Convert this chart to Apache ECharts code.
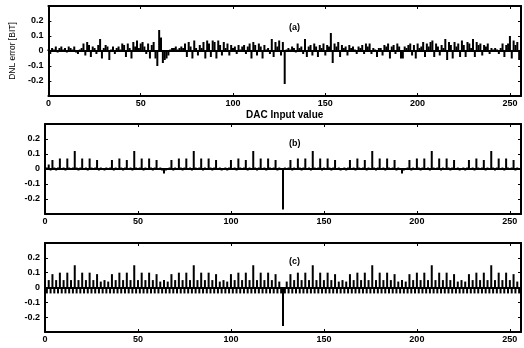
<!DOCTYPE html>
<html><head><meta charset="utf-8">
<script src="https://cdn.jsdelivr.net/npm/echarts@6/dist/echarts.min.js"></script>
<style>html,body{margin:0;padding:0;background:#fff}#c{width:524px;height:348px}</style>
</head><body><div id="c"></div>
<script>
// DAC input codes 0..255
const codes = Array.from({length: 256}, (_, i) => i);
const xTicks = [0, 50, 100, 150, 200, 250];
const yTicks = [-0.2, -0.1, 0, 0.1, 0.2];
const panelLabels = ['(a)', '(b)', '(c)'];
const xName = 'DAC Input value';
const yName = 'DNL error [BIT]';

const dnlA = [
 0.01,-0.02,0.02,0.01,0.03,-0.01,0.02,0.03,0.01,0.02,-0.01,0.03,0.02,0.01,0.03,-0.01,
 -0.02,0.01,0.02,0.05,-0.03,0.06,0.04,-0.04,0.03,0.02,-0.02,0.04,0.08,-0.05,0.02,0.04,
 0.03,-0.06,0.01,0.03,-0.02,0.02,0.03,0.01,0.05,0.04,-0.04,0.05,0.02,-0.05,0.06,0.03,
 0.07,0.02,0.05,0.06,0.03,-0.02,0.05,-0.05,0.04,0.06,-0.05,-0.10,0.14,0.09,-0.08,-0.06,
 -0.05,-0.03,0.01,0.02,0.02,0.03,0.01,0.02,0.03,0.02,0.05,-0.04,0.06,0.03,-0.05,0.07,
 0.02,-0.03,0.04,0.02,0.06,-0.05,0.07,0.05,-0.04,0.07,0.06,-0.05,0.07,0.04,-0.03,0.06,
 0.02,0.05,-0.03,0.04,0.02,0.03,-0.02,0.04,0.01,0.03,0.04,-0.02,0.03,0.05,-0.05,0.06,
 0.04,-0.03,0.05,0.03,-0.05,0.04,0.01,0.02,-0.02,0.08,-0.04,0.06,0.03,0.07,-0.03,0.06,
 -0.22,0.01,0.02,0.01,0.03,0.02,-0.01,0.05,0.02,0.03,-0.02,0.08,-0.04,0.03,0.04,-0.03,
 0.05,0.03,-0.04,0.04,0.02,0.05,-0.03,0.04,0.03,0.12,-0.08,0.05,0.03,0.06,-0.04,0.04,
 0.02,0.03,-0.03,0.04,0.02,0.03,0.01,-0.02,0.03,0.02,0.04,-0.02,0.05,0.03,0.05,-0.02,
 0.02,0.01,-0.04,0.02,0.02,-0.03,0.04,0.03,0.05,-0.05,0.03,0.04,-0.02,0.05,0.03,-0.05,
 -0.05,0.03,0.02,0.04,0.05,-0.03,0.04,-0.05,0.05,0.02,0.03,0.06,-0.04,0.05,0.03,0.06,
 0.07,-0.04,0.05,0.03,-0.03,0.04,0.02,0.08,-0.06,0.06,0.04,-0.05,0.06,0.03,0.05,-0.04,
 0.07,0.04,-0.04,0.06,0.05,0.02,0.08,-0.04,0.06,0.04,0.05,-0.03,0.04,0.03,0.05,-0.02,
 0.02,0.01,0.02,0.01,-0.02,0.02,0.05,-0.04,0.04,0.05,0.10,-0.05,0.07,0.04,0.06,-0.06
];

const dnlB = [
 0.00,0.01,0.03,-0.01,0.06,0.01,-0.01,0.01,0.07,0.00,0.01,-0.01,0.07,0.01,0.00,0.01,
 0.12,0.01,-0.01,0.01,0.07,0.00,0.01,-0.01,0.07,0.01,0.00,0.01,0.06,-0.01,0.01,0.00,
 -0.01,0.01,0.00,0.01,0.06,-0.01,0.01,0.00,0.07,0.01,-0.01,0.01,0.06,0.00,0.01,-0.01,
 0.12,0.01,0.00,0.01,0.07,-0.01,0.01,0.00,0.07,0.01,-0.01,0.01,0.06,0.00,0.01,-0.01,
 -0.03,-0.01,0.00,0.01,0.06,-0.01,0.01,0.00,0.07,0.01,-0.01,0.01,0.07,0.00,0.01,-0.01,
 0.12,0.01,0.00,0.01,0.07,-0.01,0.01,0.00,0.07,0.01,-0.01,0.01,0.06,0.00,0.01,-0.01,
 0.00,0.01,-0.01,0.01,0.06,0.00,0.01,-0.01,0.07,0.01,0.00,0.01,0.06,-0.01,0.01,0.00,
 0.12,0.01,-0.01,0.01,0.07,0.00,0.01,-0.01,0.07,0.01,0.00,0.01,0.06,-0.01,0.01,0.00,
 -0.27,0.01,0.00,0.01,0.06,-0.01,0.01,0.00,0.07,0.01,-0.01,0.01,0.07,0.00,0.01,-0.01,
 0.12,0.01,0.00,0.01,0.07,-0.01,0.01,0.00,0.07,0.01,-0.01,0.01,0.06,0.00,0.01,-0.01,
 0.00,0.01,-0.01,0.01,0.06,0.00,0.01,-0.01,0.07,0.01,0.00,0.01,0.06,-0.01,0.01,0.00,
 0.12,0.01,-0.01,0.01,0.07,0.00,0.01,-0.01,0.07,0.01,0.00,0.01,0.06,-0.01,0.01,0.00,
 -0.03,-0.01,0.00,0.01,0.06,-0.01,0.01,0.00,0.07,0.01,-0.01,0.01,0.07,0.00,0.01,-0.01,
 0.12,0.01,0.00,0.01,0.07,-0.01,0.01,0.00,0.07,0.01,-0.01,0.01,0.06,0.00,0.01,-0.01,
 0.00,0.01,-0.01,0.01,0.06,0.00,0.01,-0.01,0.07,0.01,0.00,0.01,0.06,-0.01,0.01,0.00,
 0.12,0.01,-0.01,0.01,0.07,0.00,0.01,-0.01,0.07,0.01,0.00,0.01,0.06,-0.01,0.01,0.00
];

const dnlC = [
 0.03,-0.04,0.05,-0.04,0.09,-0.04,0.05,-0.04,0.10,-0.04,0.05,-0.04,0.10,-0.04,0.05,-0.04,
 0.15,-0.04,0.05,-0.04,0.10,-0.04,0.05,-0.04,0.10,-0.04,0.05,-0.04,0.09,-0.04,0.04,-0.04,
 0.05,-0.04,0.04,-0.04,0.09,-0.04,0.05,-0.04,0.10,-0.04,0.05,-0.04,0.10,-0.04,0.05,-0.04,
 0.15,-0.04,0.05,-0.04,0.10,-0.04,0.05,-0.04,0.10,-0.04,0.05,-0.04,0.09,-0.04,0.04,-0.04,
 0.05,-0.04,0.04,-0.04,0.09,-0.04,0.05,-0.04,0.10,-0.04,0.05,-0.04,0.10,-0.04,0.05,-0.04,
 0.15,-0.04,0.05,-0.04,0.10,-0.04,0.05,-0.04,0.10,-0.04,0.05,-0.04,0.09,-0.04,0.04,-0.04,
 0.05,-0.04,0.04,-0.04,0.09,-0.04,0.05,-0.04,0.10,-0.04,0.05,-0.04,0.10,-0.04,0.05,-0.04,
 0.15,-0.04,0.05,-0.04,0.10,-0.04,0.05,-0.04,0.10,-0.04,0.05,-0.04,0.09,-0.04,0.04,-0.04,
 -0.26,-0.04,0.04,-0.04,0.09,-0.04,0.05,-0.04,0.10,-0.04,0.05,-0.04,0.10,-0.04,0.05,-0.04,
 0.15,-0.04,0.05,-0.04,0.10,-0.04,0.05,-0.04,0.10,-0.04,0.05,-0.04,0.09,-0.04,0.04,-0.04,
 0.05,-0.04,0.04,-0.04,0.09,-0.04,0.05,-0.04,0.10,-0.04,0.05,-0.04,0.10,-0.04,0.05,-0.04,
 0.15,-0.04,0.05,-0.04,0.10,-0.04,0.05,-0.04,0.10,-0.04,0.05,-0.04,0.09,-0.04,0.04,-0.04,
 0.05,-0.04,0.04,-0.04,0.09,-0.04,0.05,-0.04,0.10,-0.04,0.05,-0.04,0.10,-0.04,0.05,-0.04,
 0.15,-0.04,0.05,-0.04,0.10,-0.04,0.05,-0.04,0.10,-0.04,0.05,-0.04,0.09,-0.04,0.04,-0.04,
 0.05,-0.04,0.04,-0.04,0.09,-0.04,0.05,-0.04,0.10,-0.04,0.05,-0.04,0.10,-0.04,0.05,-0.04,
 0.15,-0.04,0.05,-0.04,0.10,-0.04,0.05,-0.04,0.10,-0.04,0.05,-0.04,0.09,-0.04,0.04,-0.04
];

const series = [dnlA, dnlB, dnlC];
const grids = [
  {left: 45, top: 6, width: 478, height: 90},
  {left: 45, top: 124, width: 478, height: 90},
  {left: 45, top: 243, width: 478, height: 89}
];
const FONT = 'Liberation Sans, Arial, sans-serif';
const lineStyle = {color: '#000', width: 2};

const xAxes = [], yAxes = [], ser = [];
grids.forEach((g, k) => {
  xAxes.push({
    type: 'value', gridIndex: k, position: 'bottom', min: 0, max: 256, interval: 50,
    axisLine: {show: true, onZero: false, lineStyle},
    axisTick: {show: true, inside: true, length: 3, lineStyle: {color: '#000', width: 1}},
    splitLine: {show: false},
    axisLabel: {color: '#000', fontFamily: FONT, fontWeight: 'bold', fontSize: 9, margin: 3,
      formatter: v => (xTicks.indexOf(v) >= 0 ? String(v) : '')},
    name: k === 0 ? xName : '', nameLocation: 'middle', nameGap: 14,
    nameTextStyle: {color: '#000', fontFamily: FONT, fontWeight: 'bold', fontSize: 10}
  });
  xAxes.push({
    type: 'value', gridIndex: k, position: 'top', min: 0, max: 256, interval: 50,
    axisLine: {show: true, onZero: false, lineStyle},
    axisTick: {show: true, inside: true, length: 3, lineStyle: {color: '#000', width: 1}},
    splitLine: {show: false}, axisLabel: {show: false}
  });
  yAxes.push({
    type: 'value', gridIndex: k, position: 'left', min: -0.3, max: 0.3, interval: 0.1,
    axisLine: {show: true, onZero: false, lineStyle},
    axisTick: {show: true, inside: true, length: 3, lineStyle: {color: '#000', width: 1}},
    splitLine: {show: false},
    axisLabel: {color: '#000', fontFamily: FONT, fontWeight: 'bold', fontSize: 9, margin: 5,
      formatter: v => {
        const r = Number(v.toFixed(1));
        return yTicks.some(t => Math.abs(t - r) < 1e-6) ? String(r) : '';
      }},
    name: k === 0 ? yName : '', nameLocation: 'middle', nameGap: 31, nameRotate: 90,
    nameTextStyle: {color: '#000', fontFamily: FONT, fontSize: 8.5}
  });
  yAxes.push({
    type: 'value', gridIndex: k, position: 'right', min: -0.3, max: 0.3, interval: 0.1,
    axisLine: {show: true, onZero: false, lineStyle},
    axisTick: {show: true, inside: true, length: 3, lineStyle: {color: '#000', width: 1}},
    splitLine: {show: false}, axisLabel: {show: false}
  });
  ser.push({
    type: 'bar', xAxisIndex: 2 * k, yAxisIndex: 2 * k, barWidth: 2,
    itemStyle: {color: '#000'}, silent: true, animation: false,
    data: series[k].map((v, i) => [codes[i], v]),
    markLine: {silent: true, symbol: 'none', label: {show: false},
      lineStyle: {color: '#000', width: 2, type: 'solid'}, data: [{yAxis: 0}]}
  });
});

const titles = [
  {text: panelLabels[0], left: 284, top: 18},
  {text: panelLabels[1], left: 284, top: 134},
  {text: panelLabels[2], left: 284, top: 252}
].map(t => Object.assign(t, {textStyle: {color: '#000', fontFamily: FONT, fontWeight: 'bold', fontSize: 9}}));

const chart = echarts.init(document.getElementById('c'), null, {renderer: 'canvas'});
chart.setOption({
  animation: false,
  backgroundColor: '#fff',
  title: titles,
  grid: grids,
  xAxis: xAxes,
  yAxis: yAxes,
  series: ser
});
</script></body></html>
